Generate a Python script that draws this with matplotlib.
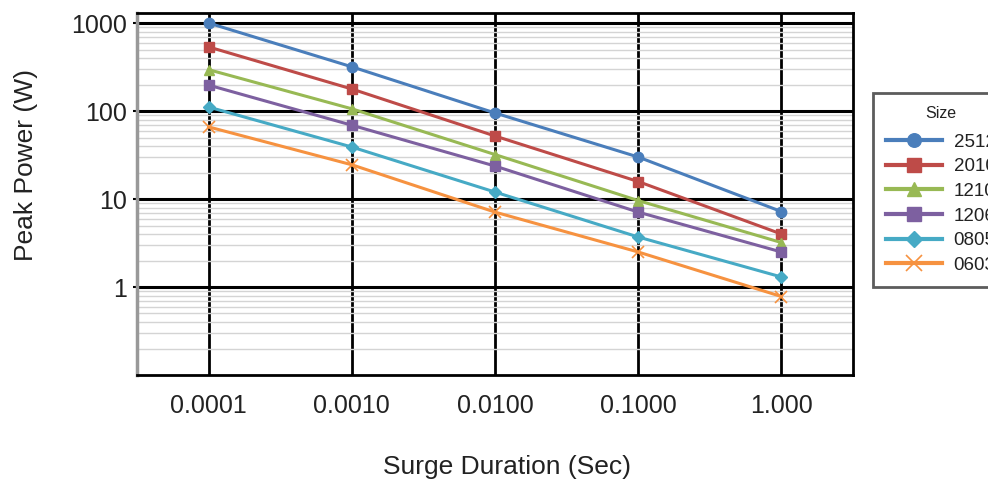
import matplotlib.pyplot as plt
from matplotlib.ticker import FixedLocator, LogLocator, NullFormatter

plt.rcParams["font.family"] = ["Liberation Sans", "DejaVu Sans"]

durations = ["0.0001", "0.0010", "0.0100", "0.1000", "1.000"]
sizes = ["2512", "2010", "1210", "1206", "0805", "0603"]

power_2512 = [1000, 318, 95, 30, 7.2]
power_2010 = [535, 178, 52, 15.8, 4.0]
power_1210 = [295, 106, 32, 9.6, 3.2]
power_1206 = [197, 69, 23.7, 7.1, 2.5]
power_0805 = [111, 39, 12, 3.7, 1.3]
power_0603 = [66, 24.5, 7.1, 2.5, 0.78]

series = [power_2512, power_2010, power_1210, power_1206, power_0805, power_0603]
colors = ["#4A7EBB", "#BE4B48", "#98B954", "#7D60A0", "#46AAC5", "#F69240"]
markers = ["o", "s", "^", "s", "D", "x"]
marker_sizes = [7.5, 7.5, 7.5, 7.5, 6, 9]

fig = plt.figure(figsize=(9.88, 4.8), dpi=100)
ax = fig.add_axes([137 / 988, 1 - 375 / 480, 716 / 988, 362 / 480])

x = list(range(len(durations)))
for label, values, color, marker, ms in zip(sizes, series, colors, markers, marker_sizes):
    ax.plot(
        x,
        values,
        color=color,
        linewidth=2.2,
        marker=marker,
        markersize=ms,
        markeredgewidth=1.0 if marker != "x" else 1.2,
        markeredgecolor=color,
        label=label,
        zorder=3,
    )

ax.set_yscale("log")
ax.set_ylim(0.1, 1300)
ax.set_xlim(-0.5, len(durations) - 0.5)

ax.yaxis.set_major_locator(FixedLocator([1, 10, 100, 1000]))
ax.yaxis.set_major_formatter(plt.FuncFormatter(lambda v, _: f"{v:g}"))
ax.yaxis.set_minor_locator(LogLocator(base=10, subs=range(2, 10), numticks=20))
ax.yaxis.set_minor_formatter(NullFormatter())
ax.set_xticks(x)
ax.set_xticklabels(durations)

ax.grid(True, which="minor", axis="y", color="#d4d4d4", linewidth=1.0, zorder=1)
ax.grid(True, which="major", axis="y", color="black", linewidth=2.2, zorder=2)
ax.grid(True, which="major", axis="x", color="black", linewidth=2.0, zorder=2)

ax.tick_params(axis="y", which="major", length=3, width=1.5, color="black",
               labelsize=18, labelcolor="#222222", pad=4)
ax.tick_params(axis="y", which="minor", length=0)
ax.tick_params(axis="x", length=0, labelsize=18, labelcolor="#222222", pad=14)

for name, spine in ax.spines.items():
    spine.set_linewidth(2.0)
    spine.set_color("black")
ax.spines["left"].set_color("#999999")
ax.spines["left"].set_linewidth(2.5)

ax.set_ylabel("Peak Power (W)", fontsize=19, color="#222222")
ax.yaxis.set_label_coords((26 - 137) / 716, (375 - 165) / 362)
ax.set_xlabel("Surge Duration (Sec)", fontsize=19, color="#222222")
ax.xaxis.set_label_coords((507 - 137) / 716, (375 - 467) / 362)
ax.xaxis.label.set_verticalalignment("center")
ax.yaxis.label.set_verticalalignment("center")

legend = fig.legend(
    loc="upper left",
    bbox_to_anchor=(873 / 988, 1 - 93 / 480),
    title="Size",
    fontsize=13.5,
    title_fontsize=11.5,
    frameon=True,
    fancybox=False,
    handlelength=3.0,
    borderpad=0.7,
    borderaxespad=0,
    labelspacing=0.4,
    handletextpad=0.6,
    markerscale=1.3,
)
# a little more room between the title and the entries
legend._legend_box.sep = 9
legend.get_frame().set_edgecolor("#333333")
legend.get_frame().set_linewidth(2.0)
legend.get_title().set_color("#222222")
for text in legend.get_texts():
    text.set_color("#222222")
for line in legend.get_lines():
    line.set_linewidth(3.0)

fig.savefig("out.png", dpi=100)
